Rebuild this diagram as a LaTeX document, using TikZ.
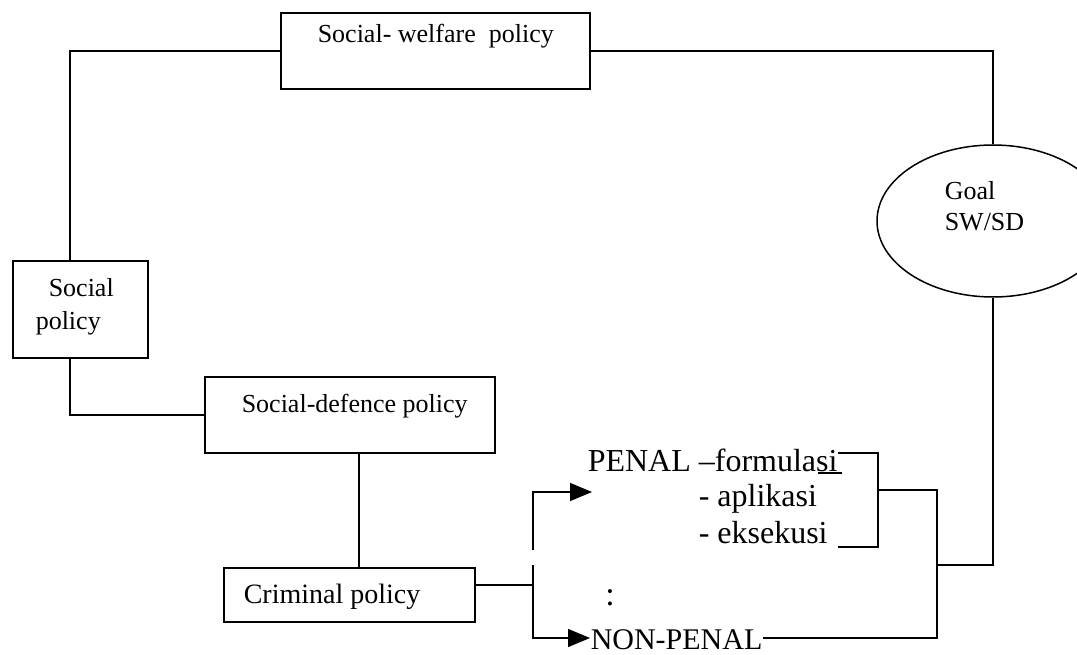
\documentclass[tikz,border=0pt]{standalone}
\usepackage{fontspec}
\setmainfont{Liberation Serif}
\usetikzlibrary{shapes.geometric,arrows.meta}
\begin{document}
\begin{tikzpicture}[x=1pt,y=-1pt, line width=1.5pt,
 box/.style={draw, rectangle, inner sep=0pt},
 lbl/.style={anchor=base west, inner sep=0pt, font=\fontsize{26}{30}\selectfont},
 big/.style={anchor=base west, inner sep=0pt, font=\fontsize{32}{36}\selectfont},
 tri/.style={-{Triangle[length=22pt,width=18pt]}}]
\useasboundingbox (0,0) rectangle (1077,655);
\clip (0,0) rectangle (1077,655);
% boxes
\node[box, minimum width=309pt, minimum height=76pt] (sw) at (435.5,51) {};
\node[box, minimum width=135pt, minimum height=97pt] (sp) at (80.5,309.5) {};
\node[box, minimum width=290pt, minimum height=76pt] (sd) at (350,415) {};
\node[box, minimum width=251pt, minimum height=54pt] (cp) at (349.5,595) {};
\node[draw, ellipse, inner sep=0pt, minimum width=232pt, minimum height=152pt] (goal) at (993,221) {};
% texts
\node[lbl] (swt) at (317,43) {Social- welfare\ \ policy};
\node[lbl] (spt1) at (48,297) {Social};
\node[lbl] (spt2) at (35,330) {policy};
\node[lbl] (sdt) at (241,412) {Social-defence policy};
\node[lbl, font=\fontsize{28}{32}\selectfont] (cpt) at (243,603) {Criminal policy};
\node[lbl] (g1) at (944,200) {Goal};
\node[lbl] (g2) at (944,231) {SW/SD};
\node[big] (pen) at (587,471) {PENAL –formulasi};
\node[big] (apl) at (698,506) {- aplikasi};
\node[big] (eks) at (698,543) {- eksekusi};
\node[big, font=\fontsize{30}{34}\selectfont] (npen) at (590,649) {NON-PENAL};
\node[anchor=base, inner sep=0pt, font=\fontsize{34}{38}\selectfont] (col) at (610,605) {:};
% coordinates
\coordinate (c1) at (70,51);
\coordinate (v) at (359,0);
\coordinate (j) at (533,585);
\coordinate (ptip) at (592,492);
\coordinate (ntip) at (590,638);
\coordinate (br) at (878,490);
\coordinate (br2) at (937,565);
% connectors
\draw (sw.west) -- (c1) -- (c1 |- sp.north);
\draw (c1 |- sp.south) |- (sd.west);
\draw (sw.east) -| (goal.north);
\draw (v |- sd.south) -- (v |- cp.north);
\draw (cp.east |- j) -- (j);
\draw (j) -- (533,565);
\draw[tri] (533,550) |- (ptip);
\draw[tri] (j) |- (ntip);
\draw (838,453) -- (878,453) -- (878,547) -- (838,547);
\draw[line width=1.2pt] (818,473) -- (842,473);
\draw (br) -| (937,638) -- (npen.east |- ntip);
\draw (goal.south) |- (br2);
\end{tikzpicture}
\end{document}
